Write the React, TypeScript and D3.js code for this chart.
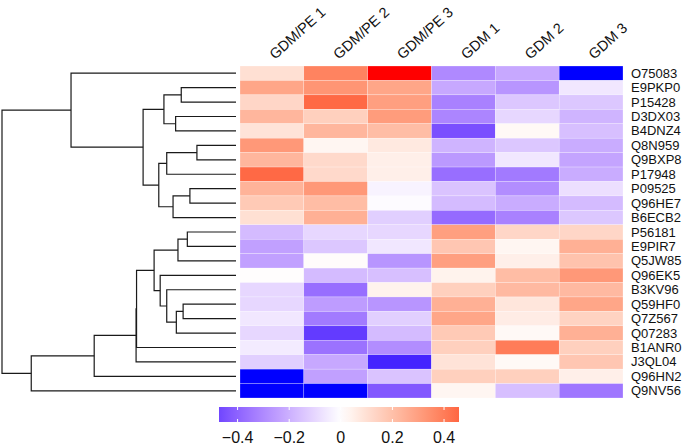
import React from "react";
import * as d3 from "d3";

const proteins = ["O75083","E9PKP0","P15428","D3DX03","B4DNZ4","Q8N959","Q9BXP8","P17948","P09525","Q96HE7","B6ECB2","P56181","E9PIR7","Q5JW85","Q96EK5","B3KV96","Q59HF0","Q7Z567","Q07283","B1ANR0","J3QL04","Q96HN2","Q9NV56"];
const samples = ["GDM/PE 1","GDM/PE 2","GDM/PE 3","GDM 1","GDM 2","GDM 3"];

const gdmPe1 = [0.1,0.28,0.13,0.23,0.09,0.32,0.23,0.45,0.24,0.17,0.1,-0.17,-0.24,-0.24,0.005,-0.1,-0.1,-0.06,-0.1,-0.05,-0.12,-0.7,-0.7];
const gdmPe2 = [0.38,0.33,0.45,0.15,0.23,0.03,0.12,0.12,0.32,0.21,0.25,-0.1,-0.14,0.01,-0.17,-0.37,-0.25,-0.34,-0.5,-0.36,-0.22,-0.24,-0.7];
const gdmPe3 = [0.7,0.28,0.3,0.31,0.21,0.07,0.05,0.05,-0.03,-0.01,-0.12,-0.1,-0.06,-0.27,-0.16,0.04,-0.27,-0.12,-0.17,-0.29,-0.55,-0.15,-0.43];
const gdm1 = [-0.3,-0.22,-0.32,-0.31,-0.45,-0.19,-0.26,-0.37,-0.15,-0.17,-0.38,0.3,0.18,0.3,0.04,0.15,0.25,0.28,0.17,0.15,0.09,0.15,0.03];
const gdm2 = [-0.22,-0.27,-0.14,-0.1,0.02,-0.14,-0.06,-0.34,-0.29,-0.21,-0.32,0.13,0.03,0.05,0.21,0.22,0.08,0.06,0.02,0.4,0.02,0.15,-0.16];
const gdm3 = [-0.7,-0.06,-0.14,-0.19,-0.16,-0.21,-0.23,-0.21,-0.08,-0.17,-0.14,0.13,0.25,0.19,0.32,0.22,0.28,0.14,0.25,0.15,0.18,0.05,-0.35];
const series = [gdmPe1, gdmPe2, gdmPe3, gdm1, gdm2, gdm3];

// hclust-like merges: negative = leaf (1-based row), positive = earlier merge (1-based)
const merges: [number, number, number][] = [
  [-2,-3,0.234],[-4,-5,0.258],[1,2,0.308],[-6,-7,0.167],[4,-8,0.296],[-9,-10,0.197],[6,-11,0.269],[5,7,0.330],[3,8,0.397],[-1,9,0.705],
  [-12,-13,0.208],[11,-14,0.248],[-17,-18,0.226],[13,-19,0.255],[-16,14,0.296],[-15,15,0.324],[12,16,0.350],[17,-20,0.425],[18,-21,0.427],[19,-22,0.606],[20,-23,0.875],[10,21,1.0]
];

const colorTicks = [-0.4,-0.2,0,0.2,0.4];
const colorDomain = [-0.472, 0.458];

export default function App() {
  const W = 685, H = 445;
  const x = d3.scaleBand<number>().domain(d3.range(samples.length)).range([240, 623]);
  const y = d3.scaleBand<number>().domain(d3.range(proteins.length)).range([66, 398]);
  const L = 0.6;
  const color = d3.scaleLinear<string>().domain([-L, 0, L]).range(["blue", "white", "red"]).interpolate(d3.interpolateLab).clamp(true);
  const hx = d3.scaleLinear().domain([0, 1]).range([236, 2]);

  // dendrogram
  const pos: { y: number; h: number }[] = [];
  const getNode = (id: number) => id < 0 ? { y: y(-id - 1)! + y.bandwidth() / 2, h: 0 } : pos[id - 1];
  const segs: string[] = [];
  merges.forEach(([a, b, h]) => {
    const na = getNode(a), nb = getNode(b);
    const xm = hx(h);
    segs.push(`M${hx(na.h)},${na.y}H${xm}V${nb.y}H${hx(nb.h)}`);
    pos.push({ y: (na.y + nb.y) / 2, h });
  });

  const cb = d3.scaleLinear().domain(colorDomain).range([219, 459]);
  const stops = d3.range(0, 1.0001, 0.05).map(t => {
    const v = colorDomain[0] + t * (colorDomain[1] - colorDomain[0]);
    return { off: t, c: color(v) };
  });
  const fmt = (v: number) => v === 0 ? "0" : (v < 0 ? "\u2212" : "") + Math.abs(v).toFixed(1);

  return (
    <svg width={W} height={H} style={{ position: "absolute", left: 0, top: 0, fontFamily: "Liberation Sans, Arial, sans-serif" }}>
      <rect width={W} height={H} fill="white" />
      <g>
        {series.map((col, ci) => col.map((v, ri) => (
          <rect key={`${ci}-${ri}`} x={x(ci)} y={y(ri)} width={x.bandwidth()} height={y.bandwidth()} fill={color(v)} stroke="white" strokeWidth={0.4} strokeOpacity={0.6} />
        )))}
      </g>
      <g fill="none" stroke="#1a1a1a" strokeWidth={1.2}>
        {segs.map((d, i) => <path key={i} d={d} />)}
      </g>
      <g fontSize={13} fill="#111">
        {proteins.map((p, i) => (
          <text key={p} x={631} y={y(i)! + y.bandwidth() / 2} dominantBaseline="central">{p}</text>
        ))}
      </g>
      <g fontSize={14.5} fill="#111">
        {samples.map((s, i) => {
          const cx = x(i)! + x.bandwidth() / 2 + 3;
          return <text key={s} transform={`translate(${cx},60) rotate(-42)`}>{s}</text>;
        })}
      </g>
      <defs>
        <linearGradient id="cbg" x1="0" x2="1" y1="0" y2="0">
          {stops.map((s, i) => <stop key={i} offset={s.off} stopColor={s.c} />)}
        </linearGradient>
      </defs>
      <rect x={219} y={407} width={240} height={15} fill="url(#cbg)" />
      <g stroke="white" strokeWidth={1}>
        {colorTicks.map(t => (
          <g key={t}>
            <line x1={cb(t)} x2={cb(t)} y1={407} y2={410} />
            <line x1={cb(t)} x2={cb(t)} y1={419} y2={422} />
          </g>
        ))}
      </g>
      <g fontSize={16} fill="#111" textAnchor="middle">
        {colorTicks.map(t => <text key={t} x={cb(t)} y={443}>{fmt(t)}</text>)}
      </g>
    </svg>
  );
}
